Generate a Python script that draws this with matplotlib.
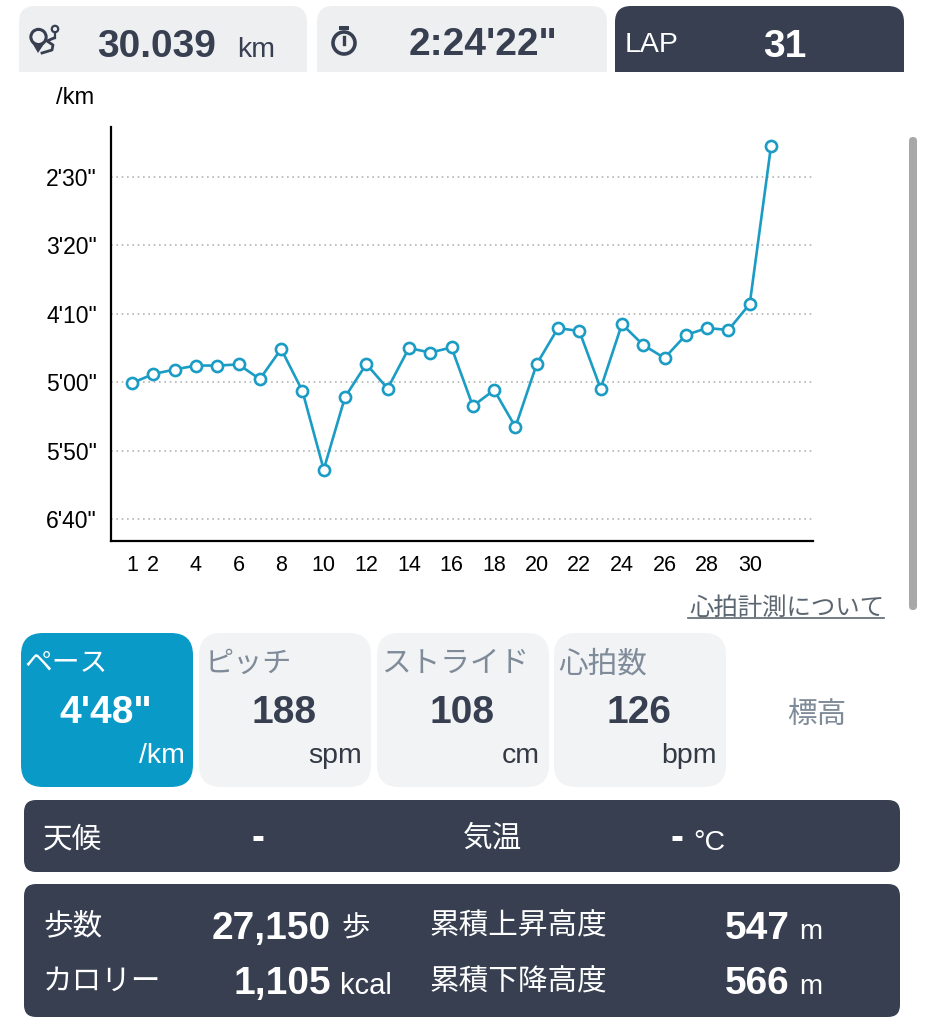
import matplotlib
matplotlib.use('Agg')
import matplotlib.pyplot as plt
from matplotlib.patches import FancyBboxPatch, Rectangle, Circle, Polygon

FONTS = ['Liberation Sans', 'Noto Sans CJK JP', 'DejaVu Sans']
plt.rcParams['font.family'] = FONTS

laps = list(range(1, 32))
# pace in seconds per km
pace = [300.6, 294.0, 290.7, 287.8, 287.8, 287.0, 297.7, 275.7, 306.4, 363.8,
        310.8, 286.7, 304.6, 275.0, 278.3, 274.6, 317.4, 305.7, 332.7, 286.7,
        260.4, 262.6, 304.6, 257.5, 272.8, 282.3, 265.5, 260.4, 261.8, 242.8,
        127.3]
y_ticks = [150, 200, 250, 300, 350, 400]
y_labels = ['2\'30"', '3\'20"', '4\'10"', '5\'00"', '5\'50"', '6\'40"']
x_ticks = [1, 2, 4, 6, 8, 10, 12, 14, 16, 18, 20, 22, 24, 26, 28, 30]

DARK = '#373f51'
BLUE = '#0a9ac7'
LINE = '#1a9cc4'
TAB = '#eeeff1'
TILE = '#f2f3f5'
GREY = '#7f8b99'
W, H = 925, 1024

fig = plt.figure(figsize=(9.25, 10.24), dpi=100)

# whole-page layer in pixel coordinates
bg = fig.add_axes([0, 0, 1, 1], zorder=0)
bg.set_xlim(0, W)
bg.set_ylim(H, 0)
bg.axis('off')


def box(x0, y0, x1, y1, r, color):
    bg.add_patch(FancyBboxPatch((x0 + r, y0 + r), x1 - x0 - 2 * r, y1 - y0 - 2 * r,
                                boxstyle='round,pad=%d,rounding_size=%d' % (r, r),
                                fc=color, ec='none'))


def tab(x0, x1, color):
    box(x0, 6, x1, 72, 16, color)
    bg.add_patch(Rectangle((x0, 40), x1 - x0, 32, fc=color, ec='none'))


def txt(x, y, s, size, color, ha='left', va='baseline', bold=False):
    bg.text(x, y, s, fontsize=size, color=color, ha=ha, va=va,
            fontweight='bold' if bold else 'normal', family=FONTS)


# top tabs
tab(19, 307, TAB)
tab(317, 607, TAB)
tab(615, 904, DARK)

# distance icon
bg.add_patch(Polygon([(31, 41), (46, 41), (38, 53)], fc=DARK, ec='none'))
bg.add_patch(Circle((38.5, 37), 7.5, fc='none', ec=DARK, lw=2.4))
bg.add_patch(Circle((38.5, 37), 6, fc=TAB, ec='none'))
bg.add_patch(Circle((55, 29), 3.2, fc='none', ec=DARK, lw=1.6))
bg.plot([55, 55], [33, 38], color=DARK, lw=1.6)
bg.plot([54, 47, 53, 52, 42], [38, 41, 45, 50, 53], color=DARK, lw=2)

# stopwatch icon
bg.add_patch(Circle((344, 43), 11, fc='none', ec=DARK, lw=2.6))
bg.add_patch(Rectangle((339, 26), 10, 3.5, fc=DARK, ec='none'))
bg.plot([344, 344], [37, 44], color=DARK, lw=2.4)

txt(97, 57, '30.039', 28, DARK, bold=True)
txt(237, 57, 'km', 20.5, DARK)
txt(409, 55, '2:24\'22"', 28, DARK, bold=True)
txt(625, 52, 'LAP', 20.5, 'white')
txt(785, 57, '31', 28, 'white', ha='center', bold=True)

txt(56, 104, '/km', 17, 'black')
txt(884, 615, '心拍計測について', 17.6, '#5c6670', ha='right')
bg.plot([688, 884], [618, 618], color='#5c6670', lw=1.2)

# scrollbar
box(909, 137, 917, 610, 4, '#a8a8a8')

# metric tiles
box(21, 633, 193, 787, 22, BLUE)
box(199, 633, 371, 787, 22, TILE)
box(377, 633, 549, 787, 22, TILE)
box(554, 633, 726, 787, 22, TILE)

txt(25, 664, 'ペース', 20, 'white', va='center')
txt(205, 664, 'ピッチ', 21, GREY, va='center')
txt(381, 664, 'ストライド', 21.3, GREY, va='center')
txt(558, 664, '心拍数', 21.3, GREY, va='center')
txt(817, 715, '標高', 21.3, GREY, ha='center', va='center')

txt(106, 723, '4\'48"', 28, 'white', ha='center', bold=True)
txt(284, 723, '188', 28, DARK, ha='center', bold=True)
txt(462, 723, '108', 28, DARK, ha='center', bold=True)
txt(639, 723, '126', 28, DARK, ha='center', bold=True)

txt(185, 763, '/km', 20.5, 'white', ha='right')
txt(362, 763, 'spm', 20.5, '#333a45', ha='right')
txt(540, 763, 'cm', 20.5, '#333a45', ha='right')
txt(717, 763, 'bpm', 20.5, '#333a45', ha='right')

# weather box
box(24, 800, 900, 872, 12, DARK)
txt(43, 839, '天候', 21.3, 'white', va='center')
txt(463, 839, '気温', 21.3, 'white', va='center')
txt(258, 849, '-', 28, 'white', ha='center', bold=True)
txt(677, 849, '-', 28, 'white', ha='center', bold=True)
txt(693, 850, '°C', 20.5, 'white')

# totals box
box(24, 884, 900, 1017, 12, DARK)
txt(43, 926, '歩数', 21.3, 'white', va='center')
txt(43, 982, 'カロリー', 21.3, 'white', va='center')
txt(430, 926, '累積上昇高度', 21.3, 'white', va='center')
txt(430, 982, '累積下降高度', 21.3, 'white', va='center')
txt(331, 939, '27,150', 28, 'white', ha='right', bold=True)
txt(331, 994, '1,105', 28, 'white', ha='right', bold=True)
txt(341, 929, '歩', 20.5, 'white', va='center')
txt(340, 994, 'kcal', 21, 'white')
txt(725, 939, '547', 28, 'white', bold=True)
txt(725, 994, '566', 28, 'white', bold=True)
txt(799, 939, 'm', 20, 'white')
txt(799, 994, 'm', 20, 'white')

# pace chart
ax = fig.add_axes([111 / W, 1 - 541 / H, (813 - 111) / W, (541 - 127) / H], zorder=1)
ax.patch.set_alpha(0)
ax.plot(laps, pace, color=LINE, lw=1.9, marker='o', ms=8, mfc='white', mec=LINE, mew=1.9,
        clip_on=False, zorder=3)
ax.set_xlim(0.013, 32.97)
ax.set_ylim(416, 113.5)
ax.set_yticks(y_ticks)
ax.set_yticklabels(y_labels)
ax.set_xticks(x_ticks)
ax.grid(axis='y', color='#b5b5b5', ls=(0, (1, 2.2)), lw=1.2)
ax.tick_params(axis='y', length=0, pad=10, labelsize=16.5)
ax.tick_params(axis='x', length=0, pad=10, labelsize=15.5)
for side in ['top', 'right']:
    ax.spines[side].set_visible(False)
for side in ['left', 'bottom']:
    ax.spines[side].set_linewidth(1.6)

fig.savefig('out.png', dpi=100)
